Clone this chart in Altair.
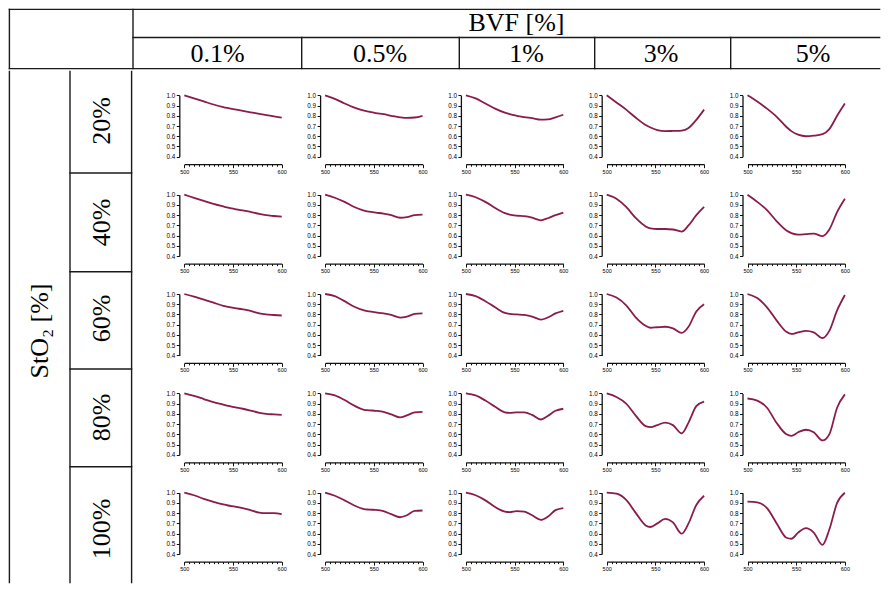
import altair as alt
import pandas as pd

# ---------------- data ----------------
WAVELENGTH = [500, 510, 520, 530, 540, 545, 552, 560, 568, 577, 584, 592, 600]
BVF_LEVELS = ["0.1%", "0.5%", "1%", "3%", "5%"]
STO2_LEVELS = ["20%", "40%", "60%", "80%", "100%"]

# normalised reflectance, one list per BVF column (0.1, 0.5, 1, 3, 5 %)
STO2_20 = [
    [1.0, 0.97, 0.94, 0.91, 0.885, 0.875, 0.862, 0.848, 0.834, 0.818, 0.806, 0.794, 0.782],
    [1.0, 0.965, 0.92, 0.88, 0.85, 0.84, 0.826, 0.815, 0.80, 0.785, 0.779, 0.783, 0.80],
    [1.0, 0.97, 0.92, 0.87, 0.83, 0.815, 0.80, 0.787, 0.776, 0.762, 0.764, 0.785, 0.81],
    [1.0, 0.93, 0.86, 0.78, 0.71, 0.685, 0.66, 0.65, 0.652, 0.655, 0.68, 0.76, 0.86],
    [1.0, 0.94, 0.87, 0.79, 0.69, 0.65, 0.615, 0.60, 0.605, 0.62, 0.67, 0.80, 0.92],
]
STO2_40 = [
    [1.0, 0.97, 0.94, 0.91, 0.885, 0.873, 0.86, 0.846, 0.832, 0.812, 0.80, 0.792, 0.785],
    [1.0, 0.97, 0.93, 0.88, 0.845, 0.835, 0.825, 0.815, 0.80, 0.775, 0.78, 0.80, 0.805],
    [1.0, 0.975, 0.93, 0.87, 0.82, 0.805, 0.795, 0.79, 0.775, 0.75, 0.77, 0.80, 0.825],
    [1.0, 0.96, 0.88, 0.77, 0.69, 0.67, 0.665, 0.665, 0.66, 0.64, 0.70, 0.80, 0.88],
    [1.0, 0.93, 0.85, 0.74, 0.65, 0.625, 0.61, 0.615, 0.62, 0.595, 0.66, 0.83, 0.96],
]
STO2_60 = [
    [1.0, 0.975, 0.945, 0.915, 0.885, 0.875, 0.862, 0.85, 0.835, 0.81, 0.80, 0.795, 0.79],
    [1.0, 0.98, 0.93, 0.875, 0.84, 0.83, 0.82, 0.81, 0.795, 0.77, 0.78, 0.805, 0.81],
    [1.0, 0.98, 0.93, 0.87, 0.815, 0.805, 0.80, 0.795, 0.78, 0.75, 0.77, 0.81, 0.835],
    [1.0, 0.965, 0.89, 0.77, 0.69, 0.67, 0.675, 0.68, 0.665, 0.62, 0.68, 0.83, 0.90],
    [1.0, 0.96, 0.87, 0.74, 0.63, 0.61, 0.625, 0.64, 0.625, 0.57, 0.64, 0.84, 0.99],
]
STO2_80 = [
    [1.0, 0.975, 0.945, 0.915, 0.89, 0.877, 0.865, 0.85, 0.832, 0.81, 0.80, 0.795, 0.79],
    [1.0, 0.98, 0.935, 0.88, 0.84, 0.835, 0.83, 0.82, 0.795, 0.765, 0.785, 0.815, 0.82],
    [1.0, 0.98, 0.93, 0.87, 0.815, 0.81, 0.815, 0.815, 0.79, 0.745, 0.78, 0.83, 0.85],
    [1.0, 0.965, 0.90, 0.78, 0.68, 0.67, 0.69, 0.715, 0.69, 0.61, 0.715, 0.875, 0.92],
    [0.95, 0.93, 0.86, 0.71, 0.60, 0.585, 0.62, 0.645, 0.62, 0.54, 0.60, 0.86, 0.99],
]
STO2_100 = [
    [1.0, 0.975, 0.94, 0.91, 0.885, 0.875, 0.865, 0.85, 0.83, 0.805, 0.80, 0.80, 0.79],
    [1.0, 0.97, 0.925, 0.875, 0.84, 0.835, 0.832, 0.82, 0.79, 0.76, 0.78, 0.823, 0.826],
    [1.0, 0.975, 0.925, 0.86, 0.815, 0.81, 0.82, 0.815, 0.78, 0.735, 0.765, 0.83, 0.85],
    [1.0, 0.99, 0.93, 0.80, 0.68, 0.665, 0.70, 0.745, 0.71, 0.60, 0.70, 0.88, 0.97],
    [0.912, 0.906, 0.85, 0.70, 0.56, 0.55, 0.61, 0.653, 0.61, 0.49, 0.64, 0.90, 1.0],
]
ROWS = [STO2_20, STO2_40, STO2_60, STO2_80, STO2_100]

X_TICKS = list(range(500, 601, 5))
Y_TICKS = [0.4, 0.5, 0.6, 0.7, 0.8, 0.9, 1.0]

# ---------------- styling / layout ----------------
CURVE_COLOR = "#8a1c4c"
LINE_COLOR = "#1a1a1a"
LINE_W = 1.4
E = LINE_W                # Vega grows a rule's bounds by its stroke width
SERIF = "Liberation Serif"
SANS = "Liberation Sans"
FS = 26

PANEL_W, PANEL_H = 97.4, 61.4          # data rectangle of each small plot
TILE_WS = [166, 141, 141, 141, 141]    # widths of the panel tiles
TILE_HS = [109, 99, 99, 99, 99]        # heights of the panel tiles
TILE_LEFT = [51.3, 26.1, 25.9, 25.7, 25.5]   # data-rect left inside each tile
TILE_TOP = [25.3, 15.7, 16.0, 16.4, 16.7]    # data-rect top inside each tile

HEAD_W, HEAD_H = 873, 62
CORNER_W = 125
BVF_H = 29.5
COL_SEPS = [293.7, 451.3, 586.7, 722.7]
COL_CX = [209.5, 372.0, 518.5, 653.0, 805.0]

LEFT_W, LEFT_H = 125, 514
STO2_W = 62
ROW_SEPS = [103, 201.7, 299, 396.7]
ROW_CY = [51.0, 152.5, 248.5, 347.5, 459.0]


def table_block(w, h, segs, texts):
    seg_df = pd.DataFrame(segs, columns=["x", "y", "x2", "y2"])
    lines = alt.Chart(seg_df).mark_rule(color=LINE_COLOR, strokeWidth=LINE_W, strokeCap="square").encode(
        x=alt.X("x:Q", scale=None, axis=None),
        y=alt.Y("y:Q", scale=None, axis=None),
        x2="x2:Q",
        y2="y2:Q",
    )
    txt_df = pd.DataFrame(texts, columns=["label", "x", "y", "angle"])
    labels = alt.Chart(txt_df).mark_text(
        font=SERIF, fontSize=FS, color="#000", align="center", baseline="middle"
    ).encode(
        x=alt.X("x:Q", scale=None, axis=None),
        y=alt.Y("y:Q", scale=None, axis=None),
        text="label:N",
        angle=alt.Angle("angle:Q", scale=None),
    )
    return alt.layer(lines, labels).properties(width=w, height=h)


def panel(values, tile_w, tile_h, left, top):
    df = pd.DataFrame({"wl": WAVELENGTH, "r": values})
    bottom = top + PANEL_H
    x_axis = alt.Axis(
        values=X_TICKS, format="d",
        labelExpr="datum.value % 50 === 0 ? datum.label : ''",
        tickSize={"condition": {"test": "datum.value % 50 === 0", "value": 3.5}, "value": 2},
        offset=(bottom + 7.5) - tile_h, grid=False, title=None,
        labelFont=SANS, labelFontSize=5.5, labelColor="#000", labelPadding=1.5,
        labelFlush=False, labelOverlap=False,
        domainColor="#111", domainWidth=1.3, tickColor="#111", tickWidth=1,
    )
    y_axis = alt.Axis(
        values=Y_TICKS, format=".1f", tickSize=3, offset=-(left - 5), grid=False, title=None,
        labelFont=SANS, labelFontSize=6.3, labelColor="#000", labelPadding=1.5,
        labelFlush=False, labelOverlap=False,
        domainColor="#111", domainWidth=1.3, tickColor="#111", tickWidth=1,
    )
    return (
        alt.Chart(df)
        .mark_line(color=CURVE_COLOR, strokeWidth=1.8, interpolate="monotone")
        .encode(
            x=alt.X("wl:Q", axis=x_axis,
                    scale=alt.Scale(domain=[500, 600], nice=False, zero=False,
                                    range=[left, left + PANEL_W])),
            y=alt.Y("r:Q", axis=y_axis,
                    scale=alt.Scale(domain=[0.4, 1.0], nice=False, zero=False,
                                    range=[bottom, top])),
        )
        .properties(width=tile_w, height=tile_h)
    )


# ---------------- header block (one view) ----------------
head_segs = [
    (E, E, HEAD_W - E, E),
    (E, HEAD_H - E, HEAD_W - E, HEAD_H - E),
    (E, E, E, HEAD_H - E),
    (CORNER_W, E, CORNER_W, HEAD_H - E),
    (CORNER_W, BVF_H, HEAD_W - E, BVF_H),
] + [(xs, BVF_H, xs, HEAD_H - E) for xs in COL_SEPS]
head_texts = [("BVF [%]", 508.5, 14.5, 0)] + [
    (lab, cx, 45.5, 0) for lab, cx in zip(BVF_LEVELS, COL_CX)
]
header = table_block(HEAD_W, HEAD_H, head_segs, head_texts)

# ---------------- left block (one view) ----------------
left_segs = [
    (E, E, E, LEFT_H - E),
    (STO2_W, E, STO2_W, LEFT_H - E),
    (LEFT_W - E, E, LEFT_W - E, LEFT_H - E),
] + [(STO2_W, ys, LEFT_W - E, ys) for ys in ROW_SEPS]
left_texts = [("StO\u2082 [%]", 32, 261, 270)] + [
    (lab, 93.5, cy, 270) for lab, cy in zip(STO2_LEVELS, ROW_CY)
]
left_block = table_block(LEFT_W, LEFT_H, left_segs, left_texts)

# ---------------- panel grid ----------------
rows = []
for r, row in enumerate(ROWS):
    tiles = [
        panel(vals, TILE_WS[c], TILE_HS[r], TILE_LEFT[c], TILE_TOP[r])
        for c, vals in enumerate(row)
    ]
    rows.append(alt.hconcat(*tiles, spacing=0))
grid = alt.vconcat(*rows, spacing=0)

body = alt.hconcat(left_block, grid, spacing=0)

chart = (
    alt.vconcat(header, body, spacing=0)
    .properties(padding={"left": 0, "top": 0, "right": 0, "bottom": 0}, background="white")
    .configure_view(stroke="transparent", strokeWidth=0)
)

chart.save("out.html", embed_options={"renderer": "svg", "actions": False})
